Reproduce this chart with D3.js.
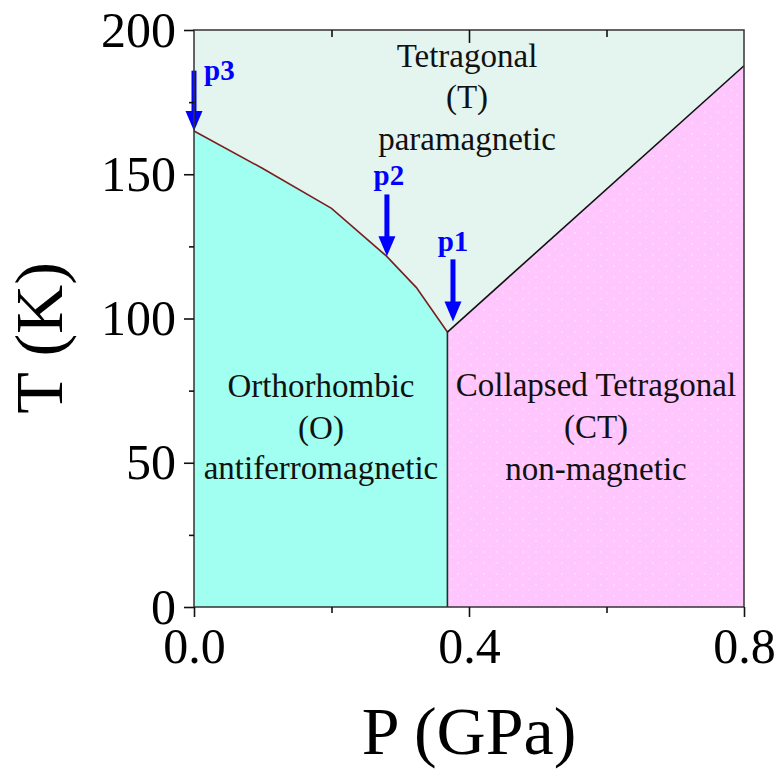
<!DOCTYPE html>
<html>
<head>
<meta charset="utf-8">
<script src="https://cdn.jsdelivr.net/npm/d3@7"></script>
<style>
  body { margin: 0; background: #fff; }
  text { font-family: "Liberation Serif", "Times New Roman", serif; }
</style>
</head>
<body>
<div class="chart"></div>
<script>
var svgWidth = 778;
var svgHeight = 771;

// phase boundaries
var otPressure = [0, 0.1, 0.2, 0.28, 0.3235, 0.3686];
var otTemp = [165, 152, 138.2, 121.6, 110.7, 95.3];
var ctPressure = [0.3686, 0.8];
var ctTemp = [95.3, 187.6];

// arrows marking the measured pressures
var arrowNames = ["p1", "p2", "p3"];
var arrowPressure = [0.3767, 0.2806, 0];
var arrowFrom = [120.5, 143, 185.9];
var arrowTo = [99, 121.6, 165];

var pTicks = [0, 0.4, 0.8];
var pMinor = [0.2, 0.6];
var tTicks = [0, 50, 100, 150, 200];
var tMinor = [25, 75, 125, 175];

var x = d3.scaleLinear().domain([0, 0.8]).range([194, 744]);
var y = d3.scaleLinear().domain([0, 200]).range([607, 30]);

var svg = d3.select(".chart")
  .append("svg")
  .attr("width", svgWidth)
  .attr("height", svgHeight);

// speckle texture of the CT region
var pat = svg.append("defs").append("pattern")
  .attr("id", "speckle")
  .attr("width", 13).attr("height", 11)
  .attr("patternUnits", "userSpaceOnUse");
pat.append("rect").attr("width", 13).attr("height", 11).attr("fill", "#ffc6fd");
pat.append("circle").attr("cx", 3).attr("cy", 2).attr("r", 0.7).attr("fill", "#fff").attr("opacity", 0.8);
pat.append("circle").attr("cx", 9).attr("cy", 7).attr("r", 0.7).attr("fill", "#fff").attr("opacity", 0.6);

var line = d3.line()
  .x(function(d) { return x(d[0]); })
  .y(function(d) { return y(d[1]); });

var otPts = otPressure.map(function(p, i) { return [p, otTemp[i]]; });
var ctPts = ctPressure.map(function(p, i) { return [p, ctTemp[i]]; });

// T region = whole frame
svg.append("rect")
  .attr("x", x(0)).attr("y", y(200))
  .attr("width", x(0.8) - x(0)).attr("height", y(0) - y(200))
  .attr("fill", "#e4f5ef");

// O region
svg.append("path")
  .attr("d", line(otPts.concat([[otPressure[otPressure.length - 1], 0], [0, 0]])) + "Z")
  .attr("fill", "#a0fff0");

// CT region
svg.append("path")
  .attr("d", line(ctPts.concat([[0.8, 0], [ctPressure[0], 0]])) + "Z")
  .attr("fill", "url(#speckle)");

svg.append("path")
  .attr("d", line(otPts))
  .attr("fill", "none")
  .attr("stroke", "#7a1f1f")
  .attr("stroke-width", 1.6);

svg.append("path")
  .attr("d", line(ctPts))
  .attr("fill", "none")
  .attr("stroke", "#111")
  .attr("stroke-width", 1.6);

svg.append("path")
  .attr("d", line([[ctPressure[0], ctTemp[0]], [ctPressure[0], 0]]))
  .attr("fill", "none")
  .attr("stroke", "#1e2e2e")
  .attr("stroke-width", 1.6);

// region labels
function block(cx, baselines, lines) {
  lines.forEach(function(s, i) {
    svg.append("text")
      .attr("x", cx).attr("y", baselines[i])
      .attr("text-anchor", "middle")
      .attr("font-size", 33)
      .attr("fill", "#111")
      .text(s);
  });
}
block(467, [67, 108, 150], ["Tetragonal", "(T)", "paramagnetic"]);
block(321, [397, 439, 479], ["Orthorhombic", "(O)", "antiferromagnetic"]);
block(596, [396, 438, 480], ["Collapsed Tetragonal", "(CT)", "non-magnetic"]);

// arrows
var headLen = 20, headHalf = 8.5;
arrowNames.forEach(function(name, i) {
  var ax = x(arrowPressure[i]);
  var top = y(arrowFrom[i]);
  var tip = y(arrowTo[i]);
  svg.append("line")
    .attr("x1", ax).attr("x2", ax)
    .attr("y1", top).attr("y2", tip - headLen + 2)
    .attr("stroke", "#0000ff")
    .attr("stroke-width", 5);
  svg.append("path")
    .attr("d", "M" + (ax - headHalf) + "," + (tip - headLen) + "L" + (ax + headHalf) + "," + (tip - headLen) + "L" + ax + "," + tip + "Z")
    .attr("fill", "#0000ff");
});
svg.append("text").attr("x", x(arrowPressure[0])).attr("y", 251).attr("text-anchor", "middle")
  .attr("font-size", 29).attr("font-weight", "bold").attr("fill", "#0000ff").text(arrowNames[0]);
svg.append("text").attr("x", x(arrowPressure[1]) + 2).attr("y", 185).attr("text-anchor", "middle")
  .attr("font-size", 29).attr("font-weight", "bold").attr("fill", "#0000ff").text(arrowNames[1]);
svg.append("text").attr("x", x(arrowPressure[2]) + 10).attr("y", 80).attr("text-anchor", "start")
  .attr("font-size", 29).attr("font-weight", "bold").attr("fill", "#0000ff").text(arrowNames[2]);

// frame
svg.append("rect")
  .attr("x", x(0)).attr("y", y(200))
  .attr("width", x(0.8) - x(0)).attr("height", y(0) - y(200))
  .attr("fill", "none")
  .attr("stroke", "#333")
  .attr("stroke-width", 1.5);

// axes
function styleAxis(g) {
  g.select(".domain").remove();
  g.selectAll("line").attr("stroke", "#111").attr("stroke-width", 1.6);
  g.selectAll("text").attr("font-size", 50).attr("fill", "#000")
    .style("font-family", "'Liberation Serif', 'Times New Roman', serif");
}

svg.append("g")
  .attr("transform", "translate(0," + y(0) + ")")
  .call(d3.axisBottom(x).tickValues(pTicks).tickSize(10).tickPadding(10).tickFormat(d3.format(".1f")))
  .call(styleAxis);
svg.append("g")
  .attr("transform", "translate(0," + y(0) + ")")
  .call(d3.axisBottom(x).tickValues(pMinor).tickSize(6).tickFormat(""))
  .call(styleAxis);

svg.append("g")
  .attr("transform", "translate(" + x(0) + ",0)")
  .call(d3.axisLeft(y).tickValues(tTicks).tickSize(10).tickPadding(8))
  .call(styleAxis);
svg.append("g")
  .attr("transform", "translate(" + x(0) + ",0)")
  .call(d3.axisLeft(y).tickValues(tMinor).tickSize(5).tickFormat(""))
  .call(styleAxis);

// top ticks point inward
svg.append("g")
  .attr("transform", "translate(0," + y(200) + ")")
  .call(d3.axisBottom(x).tickValues([0.4]).tickSize(13).tickFormat(""))
  .call(styleAxis);
svg.append("g")
  .attr("transform", "translate(0," + y(200) + ")")
  .call(d3.axisBottom(x).tickValues(pMinor).tickSize(7).tickFormat(""))
  .call(styleAxis);

// axis titles
svg.append("text")
  .attr("x", 469).attr("y", 754)
  .attr("text-anchor", "middle")
  .attr("font-size", 68)
  .text("P (GPa)");

svg.append("text")
  .attr("transform", "translate(62,338) rotate(-90)")
  .attr("text-anchor", "middle")
  .attr("font-size", 68)
  .text("T (K)");
</script>
</body>
</html>
